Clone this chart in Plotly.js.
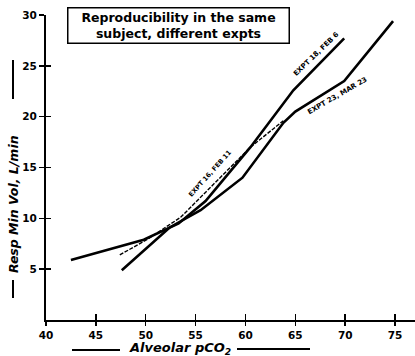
<!DOCTYPE html>
<html>
<head>
<meta charset="utf-8">
<script src="https://cdn.plot.ly/plotly-3.0.1.min.js"></script>
<style>html,body{margin:0;padding:0;background:#fff;}#chart{width:415px;height:356px;}</style>
</head>
<body>
<div id="chart"></div>
<script>
// Data
const xTickVals = [40, 45, 50, 55, 60, 65, 70, 75];
const yTickVals = [5, 10, 15, 20, 25, 30];

const expt18X = [42.5, 49.8, 53.3, 56.0, 60.5, 64.8, 69.9];
const expt18Y = [5.9, 7.9, 9.5, 11.7, 17.0, 22.6, 27.7];

const expt23X = [47.6, 52.4, 55.5, 59.7, 63.8, 65.0, 69.9, 74.8];
const expt23Y = [4.9, 9.1, 10.8, 14.0, 19.4, 20.5, 23.5, 29.4];

const expt16X = [47.4, 50.1, 53.5, 60.5, 63.8];
const expt16Y = [6.4, 7.9, 10.1, 17.0, 19.6];

const seriesLabels = ["EXPT 18, FEB 6", "EXPT 23, MAR 23", "EXPT 16, FEB 11"];
const titleLines = ["Reproducibility in the same", "subject, different expts"];
const xTitle = "Alveolar pCO<sub>2</sub>";
const yTitle = "Resp Min Vol, L/min";

const traces = [
  {x: expt18X, y: expt18Y, mode: 'lines', line: {color: '#000', width: 2.6}, hoverinfo: 'skip'},
  {x: expt23X, y: expt23Y, mode: 'lines', line: {color: '#000', width: 2.6}, hoverinfo: 'skip'},
  {x: expt16X, y: expt16Y, mode: 'lines', line: {color: '#000', width: 1.4, dash: '4px,1.5px'}, hoverinfo: 'skip'},
  {x: [], y: [], xaxis: 'x2', yaxis: 'y2', mode: 'lines', hoverinfo: 'skip'}
];

const tickFont = {family: 'DejaVu Sans', size: 10.5, color: '#000', weight: 'bold'};
const lblFont = {family: 'DejaVu Sans', size: 7, color: '#000', weight: 'bold'};

const layout = {
  width: 415, height: 356,
  margin: {l: 46, r: 0, t: 15, b: 36},
  paper_bgcolor: '#fff', plot_bgcolor: '#fff',
  showlegend: false,
  xaxis: {range: [40, 77], tickvals: xTickVals, ticktext: xTickVals.map(String),
    showline: true, linecolor: '#000', linewidth: 2, ticks: 'outside', ticklen: 4,
    tickwidth: 1.5, tickcolor: '#000', showgrid: false, zeroline: false, tickfont: tickFont},
  yaxis: {range: [0, 30], tickvals: yTickVals, ticktext: yTickVals.map(String),
    showline: true, linecolor: '#000', linewidth: 2, ticks: 'outside', ticklen: 5,
    tickwidth: 1.5, tickcolor: '#000', showgrid: false, zeroline: false, tickfont: tickFont},
  xaxis2: {range: [40, 77], overlaying: 'x', anchor: 'y2', tickvals: xTickVals.slice(1),
    ticks: 'inside', ticklen: 6, tickwidth: 1.5, tickcolor: '#000', showticklabels: false,
    showline: false, showgrid: false, zeroline: false},
  yaxis2: {range: [0, 30], overlaying: 'y', anchor: 'x2', side: 'left', tickvals: yTickVals,
    ticks: 'inside', ticklen: 5, tickwidth: 1.5, tickcolor: '#000', showticklabels: false,
    showline: false, showgrid: false, zeroline: false},
  annotations: [
    {xref: 'paper', yref: 'paper', x: 0.358, y: 0.964, xanchor: 'center', yanchor: 'middle',
     text: titleLines.join('<br>'), showarrow: false, align: 'center',
     font: {family: 'DejaVu Sans', size: 12.5, color: '#000', weight: 'bold'},
     bordercolor: '#000', borderwidth: 1.5, borderpad: 1, bgcolor: '#fff', width: 218, height: 32},
    {xref: 'x', yref: 'y', x: 67.1, y: 26.2, text: seriesLabels[0], showarrow: false,
     textangle: -44, font: lblFont},
    {xref: 'x', yref: 'y', x: 69.2, y: 22.0, text: seriesLabels[1], showarrow: false,
     textangle: -30, font: lblFont},
    {xref: 'x', yref: 'y', x: 56.4, y: 14.4, text: seriesLabels[2], showarrow: false,
     textangle: -48, font: {family: 'DejaVu Sans', size: 6.5, color: '#000', weight: 'bold'}},
    {xref: 'paper', yref: 'paper', x: -0.0894, y: 0.38, xanchor: 'center', yanchor: 'middle',
     text: yTitle, showarrow: false, textangle: -90,
     font: {family: 'DejaVu Sans', size: 12.5, color: '#000', weight: 'bold', style: 'italic'}},
    {xref: 'paper', yref: 'paper', x: 0.363, y: -0.095, xanchor: 'center', yanchor: 'middle',
     text: xTitle, showarrow: false,
     font: {family: 'DejaVu Sans', size: 13, color: '#000', weight: 'bold', style: 'italic'}}
  ],
  shapes: [
    {type: 'line', xref: 'paper', yref: 'paper', x0: (72-46)/369, x1: (120-46)/369,
     y0: (320-350)/305, y1: (320-350)/305, line: {color: '#000', width: 2}},
    {type: 'line', xref: 'paper', yref: 'paper', x0: (237-46)/369, x1: (310-46)/369,
     y0: (320-349)/305, y1: (320-349)/305, line: {color: '#000', width: 2}},
    {type: 'line', xref: 'paper', yref: 'paper', x0: (13-46)/369, x1: (13-46)/369,
     y0: (320-60)/305, y1: (320-99)/305, line: {color: '#000', width: 2}},
    {type: 'line', xref: 'paper', yref: 'paper', x0: (13-46)/369, x1: (13-46)/369,
     y0: (320-280)/305, y1: (320-298)/305, line: {color: '#000', width: 2}}
  ]
};

Plotly.newPlot('chart', traces, layout, {staticPlot: true, displayModeBar: false});
</script>
</body>
</html>
